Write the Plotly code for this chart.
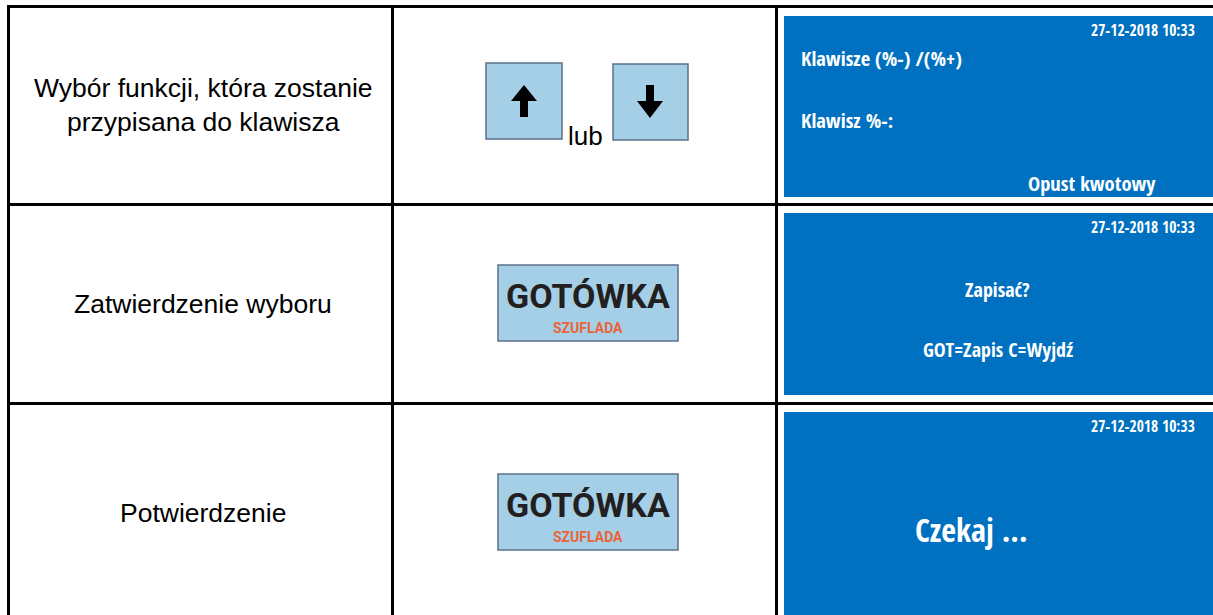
import plotly.graph_objects as go

# ---- content ----
step_labels = ["Wybór funkcji, która zostanie<br>przypisana do klawisza",
               "Zatwierdzenie wyboru",
               "Potwierdzenie"]
key_or_text = "lub"
key_main = "GOTÓWKA"
key_sub = "SZUFLADA"
screen_date = "27-12-2018 10:33"
screen1_lines = ["Klawisze (%-) /(%+)", "Klawisz %-:", "Opust kwotowy"]
screen2_lines = ["Zapisać?", "GOT=Zapis C=Wyjdź"]
screen3_lines = ["Czekaj ..."]

# ---- layout geometry (pixels) ----
W, H = 1213, 615
col_x = [8.5, 392.5, 776.5]
row_y = [6.5, 204.5, 403.5]
row_mid = [105, 304, 513]
screens_y = [(16, 197), (213, 395), (412, 620)]
screen_x0 = 784

BLUE = "#0070c0"
KEY_FILL = "#a4cfe7"
KEY_LINE = "#5b7189"
TEXT_FONT = "Liberation Sans, Arial, sans-serif"
SCREEN_FONT = "Open Sans Condensed, Roboto Condensed, sans-serif"

fig = go.Figure()
shapes = []
ann = []

for (y0, y1) in screens_y:
    shapes.append(dict(type="rect", x0=screen_x0, x1=W + 5, y0=y0, y1=y1,
                       fillcolor=BLUE, line=dict(width=0), layer="below"))

for x in col_x:
    shapes.append(dict(type="line", x0=x, x1=x, y0=row_y[0] - 1.5, y1=H + 5,
                       line=dict(color="black", width=3)))
for y in row_y:
    shapes.append(dict(type="line", x0=col_x[0] - 1.5, x1=W + 5, y0=y, y1=y,
                       line=dict(color="black", width=3)))

for (x0, x1, y0, y1) in [(486, 562, 63, 139), (613, 688, 64, 140)]:
    shapes.append(dict(type="rect", x0=x0, x1=x1, y0=y0, y1=y1,
                       fillcolor=KEY_FILL, line=dict(color=KEY_LINE, width=1.5)))
cx = 524
shapes.append(dict(type="path",
                   path=f"M {cx-4},117 L {cx-4},101 L {cx-13},101 L {cx},85 L {cx+13},101 L {cx+4},101 L {cx+4},117 Z",
                   fillcolor="black", line=dict(width=0)))
cx = 650
shapes.append(dict(type="path",
                   path=f"M {cx-4},85 L {cx-4},101 L {cx-13},101 L {cx},118 L {cx+13},101 L {cx+4},101 L {cx+4},85 Z",
                   fillcolor="black", line=dict(width=0)))
ann.append(dict(x=566, y=136, text=key_or_text, xanchor="left", yanchor="middle",
                font=dict(family=TEXT_FONT, size=26, color="black"), showarrow=False))

for (y0, y1) in [(265, 341), (474, 550)]:
    shapes.append(dict(type="rect", x0=498, x1=678, y0=y0, y1=y1,
                       fillcolor=KEY_FILL, line=dict(color=KEY_LINE, width=1.5)))
    ann.append(dict(x=588, y=y0 + 31, text=key_main, xanchor="center", yanchor="middle",
                    font=dict(family="Roboto, sans-serif", size=34, color="#231f20", weight="bold"),
                    showarrow=False))
    ann.append(dict(x=588, y=y0 + 63, text=key_sub, xanchor="center", yanchor="middle",
                    font=dict(family="Roboto, sans-serif", size=14, color="#ea6437", weight="bold"),
                    showarrow=False))

for lbl, ym in zip(step_labels, row_mid):
    ann.append(dict(x=203, y=ym, text=lbl, xanchor="center", yanchor="middle",
                    font=dict(family=TEXT_FONT, size=26.5, color="black"), showarrow=False))

def stext(x, y, t, size, anchor="left"):
    ann.append(dict(x=x, y=y, text=t, xanchor=anchor, yanchor="middle",
                    font=dict(family=SCREEN_FONT, size=size, color="white", weight="bold"),
                    showarrow=False))

for (y0, _y1) in screens_y:
    stext(1197, y0 + 14, screen_date, 15.5, "right")

stext(799, 58, screen1_lines[0], 20.5)
stext(799, 120, screen1_lines[1], 20.5)
stext(1158, 183, screen1_lines[2], 20.5, "right")

stext(997, 289, screen2_lines[0], 20)
ann[-1]["xanchor"] = "center"
stext(998, 349, screen2_lines[1], 20, "center")

stext(913, 529, screen3_lines[0], 32)

fig.update_layout(
    width=W, height=H,
    margin=dict(l=0, r=0, t=0, b=0),
    paper_bgcolor="white", plot_bgcolor="white",
    xaxis=dict(range=[0, W], visible=False, fixedrange=True),
    yaxis=dict(range=[H, 0], visible=False, fixedrange=True),
    shapes=shapes, annotations=ann, showlegend=False,
)
fig.write_html("out.html", config={"displayModeBar": False, "staticPlot": True},
               post_script="document.body.style.margin='0px';")
